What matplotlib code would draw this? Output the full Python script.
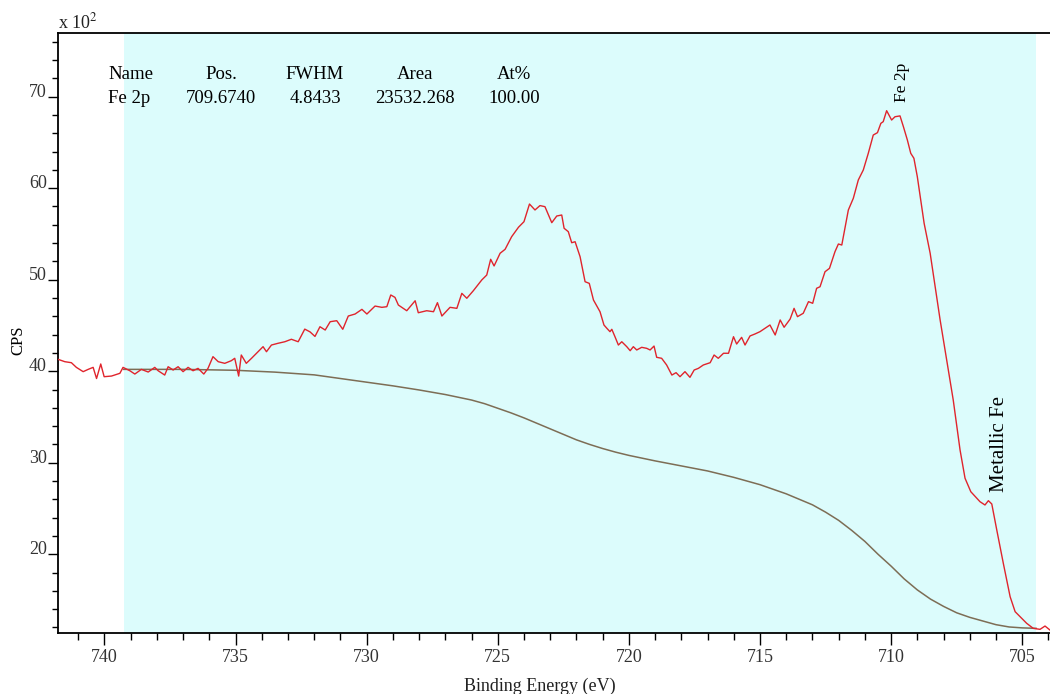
#!/usr/bin/env python3
# -*- coding: utf-8 -*-
"""
Fe 2p XPS spectrum with Shirley background.
"""

import matplotlib
matplotlib.use('Agg')
import matplotlib.pyplot as plt
from matplotlib.ticker import MultipleLocator

# binding energy (eV) and counts (x 10^2)
ENERGY = [
    741.77, 741.51, 741.26, 741.07, 740.81, 740.62, 740.43, 740.30, 740.14, 740.01,
    739.73, 739.41, 739.29, 739.03, 738.84, 738.59, 738.33, 738.08, 737.95, 737.70,
    737.57, 737.38, 737.19, 737.00, 736.81, 736.62, 736.43, 736.21, 736.05, 735.86,
    735.66, 735.41, 735.16, 735.03, 734.88, 734.78, 734.59, 734.39, 734.14, 733.95,
    733.82, 733.63, 733.38, 733.12, 732.87, 732.61, 732.36, 732.16, 731.97, 731.78,
    731.58, 731.39, 731.14, 730.91, 730.70, 730.44, 730.18, 729.99, 729.68, 729.42,
    729.23, 729.08, 728.92, 728.79, 728.47, 728.15, 728.03, 727.71, 727.45, 727.30,
    727.13, 726.82, 726.56, 726.37, 726.18, 725.93, 725.61, 725.42, 725.27, 725.14,
    724.91, 724.72, 724.47, 724.21, 724.00, 723.79, 723.58, 723.39, 723.20, 722.94,
    722.75, 722.56, 722.47, 722.31, 722.18, 722.05, 721.86, 721.67, 721.51, 721.35,
    721.10, 720.95, 720.84, 720.72, 720.65, 720.53, 720.40, 720.27, 720.08, 719.95,
    719.83, 719.70, 719.51, 719.32, 719.19, 719.04, 718.94, 718.75, 718.56, 718.36,
    718.20, 718.05, 717.86, 717.67, 717.51, 717.35, 717.16, 716.90, 716.75, 716.59,
    716.39, 716.20, 716.01, 715.89, 715.70, 715.57, 715.38, 715.19, 715.00, 714.81,
    714.62, 714.42, 714.23, 714.08, 713.85, 713.70, 713.57, 713.35, 713.15, 712.99,
    712.84, 712.71, 712.52, 712.35, 712.14, 712.01, 711.88, 711.76, 711.63, 711.44,
    711.25, 711.06, 710.87, 710.68, 710.52, 710.39, 710.30, 710.17, 709.98, 709.85,
    709.66, 709.53, 709.38, 709.25, 709.13, 709.00, 708.87, 708.74, 708.51, 708.32,
    708.13, 707.94, 707.63, 707.37, 707.18, 706.96, 706.61, 706.42, 706.29, 706.16,
    705.97, 705.72, 705.46, 705.27, 705.08, 704.83, 704.58, 704.32, 704.13, 703.94,
]
CPS = [
    41.30, 41.04, 40.93, 40.42, 39.95, 40.20, 40.42, 39.20, 40.79, 39.40,
    39.47, 39.77, 40.42, 40.05, 39.69, 40.20, 39.91, 40.42, 40.05, 39.58,
    40.49, 40.13, 40.49, 39.95, 40.42, 40.05, 40.31, 39.69, 40.31, 41.59,
    41.04, 40.86, 41.15, 41.41, 39.47, 41.77, 40.86, 41.41, 42.13, 42.68,
    42.13, 42.86, 43.05, 43.22, 43.49, 43.22, 44.60, 44.30, 43.80, 44.86,
    44.50, 45.41, 45.52, 44.58, 46.03, 46.25, 46.76, 46.25, 47.12, 46.98,
    47.05, 48.33, 48.07, 47.23, 46.61, 47.70, 46.39, 46.61, 46.50, 47.49,
    46.03, 46.98, 46.87, 48.51, 47.97, 48.80, 49.97, 50.51, 52.23, 51.50,
    52.89, 53.32, 54.70, 55.73, 56.34, 58.27, 57.62, 58.10, 57.98, 56.23,
    56.96, 57.07, 55.62, 55.25, 54.04, 54.15, 52.51, 49.78, 49.60, 47.78,
    46.50, 45.05, 44.69, 44.32, 44.58, 43.77, 42.86, 43.22, 42.68, 42.24,
    42.68, 42.32, 42.61, 42.50, 42.32, 42.75, 41.52, 41.41, 40.68, 39.58,
    39.84, 39.40, 39.95, 39.33, 40.13, 40.31, 40.68, 40.93, 41.77, 41.41,
    41.96, 41.96, 43.77, 42.97, 43.70, 42.86, 43.85, 44.07, 44.32, 44.69,
    45.05, 43.96, 45.60, 44.80, 45.70, 46.87, 45.96, 46.33, 47.60, 47.42,
    49.06, 49.23, 50.87, 51.24, 53.06, 53.90, 53.79, 55.62, 57.62, 58.90,
    60.90, 61.99, 63.81, 65.81, 66.07, 67.09, 67.27, 68.47, 67.45, 67.81,
    67.90, 66.72, 65.27, 63.81, 63.27, 61.26, 58.71, 56.16, 52.89, 49.23,
    45.60, 42.30, 36.85, 31.39, 28.30, 26.83, 25.74, 25.38, 25.85, 25.49,
    22.65, 19.00, 15.35, 13.72, 13.17, 12.45, 11.90, 11.79, 12.15, 11.71,
]

# background curve
BG_ENERGY = [
    739.27, 737.0, 735.0, 733.5, 732.0, 730.5, 729.0, 728.0, 727.0, 726.5,
    726.0, 725.5, 725.0, 724.5, 724.0, 723.5, 723.0, 722.5, 722.0, 721.5,
    721.0, 720.5, 720.0, 719.0, 718.0, 717.0, 716.0, 715.0, 714.0, 713.5,
    713.0, 712.5, 712.0, 711.5, 711.0, 710.5, 710.0, 709.5, 709.0, 708.5,
    708.0, 707.5, 707.0, 706.5, 706.0, 705.5, 705.0, 704.47,
]
BG_CPS = [
    40.2, 40.2, 40.1, 39.9, 39.6, 39.0, 38.4, 37.95, 37.45, 37.15,
    36.85, 36.45, 35.95, 35.45, 34.9, 34.3, 33.7, 33.1, 32.5, 32.0,
    31.55, 31.15, 30.8, 30.2, 29.65, 29.1, 28.4, 27.6, 26.6, 26.0,
    25.4, 24.6, 23.7, 22.6, 21.4, 20.0, 18.7, 17.3, 16.1, 15.1,
    14.3, 13.6, 13.1, 12.7, 12.3, 12.05, 11.95, 11.9,
]

REGION = (739.27, 704.47)

TABLE_HEAD = ['Name', 'Pos.', 'FWHM', 'Area', 'At%']
TABLE_ROW = ['Fe 2p', '709.6740', '4.8433', '23532.268', '100.00']

W, H = 1050, 694


def px(x, y):
    return x / W, 1 - y / H


def make_plot():
    plt.rcParams['font.family'] = ['Liberation Serif', 'DejaVu Serif']
    plt.rcParams['mathtext.fontset'] = 'stix'

    fig = plt.figure(figsize=(W / 100, H / 100), dpi=100)
    ax = fig.add_axes([58 / W, 1 - 633 / H, 1 - 58 / W, (633 - 33) / H])

    ax.axvspan(REGION[0], REGION[1], color='#dcfcfc', lw=0, zorder=0)
    ax.plot(BG_ENERGY, BG_CPS, color='#7d6d55', lw=1.1, zorder=2)
    ax.plot(ENERGY, CPS, color='#e0242c', lw=1.0, zorder=3)

    ax.set_xlim(741.77, 703.94)
    ax.set_ylim(11.39, 76.96)

    ax.xaxis.set_major_locator(MultipleLocator(5))
    ax.xaxis.set_minor_locator(MultipleLocator(1))
    ax.yaxis.set_major_locator(MultipleLocator(10))
    ax.yaxis.set_minor_locator(MultipleLocator(2))
    ax.set_yticks([20, 30, 40, 50, 60, 70])

    ax.tick_params(axis='x', which='major', direction='out', length=8.5,
                   width=1.0, pad=3, labelsize=13, labelcolor='#333333')
    ax.tick_params(axis='x', which='minor', direction='out', length=5, width=1.0)
    ax.tick_params(axis='y', which='major', direction='out', length=7,
                   width=1.0, pad=1, labelsize=13, labelcolor='#333333')
    ax.tick_params(axis='y', which='minor', direction='out', length=4, width=1.0)
    for lbl in ax.get_yticklabels():
        lbl.set_va('baseline')

    ax.spines['right'].set_visible(False)
    for s in ('left', 'bottom', 'top'):
        ax.spines[s].set_linewidth(1.3)

    fig.text(*px(58, 28), 'x 10$^{2}$', fontsize=13, color='#222222', va='baseline')
    fig.text(*px(18, 340), 'CPS', fontsize=12, rotation=90, ha='center', va='center')
    fig.text(*px(540, 691), 'Binding Energy (eV)', fontsize=13, ha='center',
             va='baseline', color='#222222')

    # peak table
    fig.text(*px(108, 79), TABLE_HEAD[0], fontsize=13.5, va='baseline')
    fig.text(*px(108, 103), TABLE_ROW[0], fontsize=13.5, va='baseline')
    for cx, head, val in zip([221, 315, 415, 514], TABLE_HEAD[1:], TABLE_ROW[1:]):
        fig.text(*px(cx, 79), head, fontsize=13.5, ha='center', va='baseline')
        fig.text(*px(cx, 103), val, fontsize=13.5, ha='center', va='baseline')

    fig.text(*px(902, 82), 'Fe 2p', fontsize=12.5, rotation=90,
             ha='center', va='center')
    fig.text(*px(1000, 444), 'Metallic Fe', fontsize=15, rotation=90,
             ha='center', va='center')

    fig.savefig('out.png', dpi=100)


if __name__ == '__main__':
    make_plot()
